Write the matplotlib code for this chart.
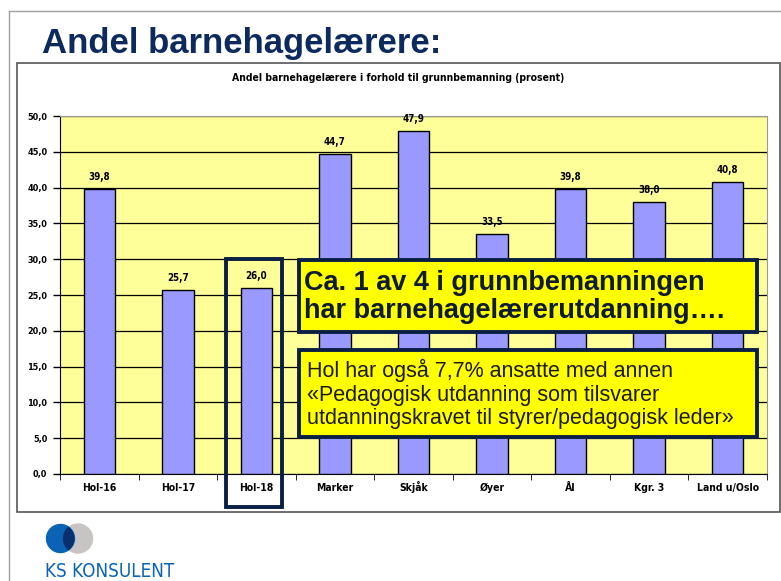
import matplotlib
matplotlib.use("Agg")
import matplotlib.pyplot as plt
from matplotlib.patches import Rectangle, Circle
import numpy as np
from matplotlib import font_manager

categories = ["Hol-16", "Hol-17", "Hol-18", "Marker", "Skjåk", "Øyer", "Ål", "Kgr. 3", "Land u/Oslo"]
values = [39.8, 25.7, 26.0, 44.7, 47.9, 33.5, 39.8, 38.0, 40.8]
yticks = [0, 5, 10, 15, 20, 25, 30, 35, 40, 45, 50]

W, H = 781, 581
fig = plt.figure(figsize=(W / 100, H / 100), dpi=100)
fig.patch.set_facecolor("white")

cond = [f for f in font_manager.fontManager.ttflist if "ondensed" in f.fname or "arrow" in f.fname]
narrow = cond[0].name if cond else "Liberation Sans"
nstretch = "condensed"

def px(x, y, w, h):
    return [x / W, 1 - (y + h) / H, w / W, h / H]

# slide frame
fig.add_artist(plt.Line2D([9 / W, 9 / W], [0, 1 - 11 / H], transform=fig.transFigure, color="#a0a0a0", lw=1))
fig.add_artist(plt.Line2D([9 / W, 1], [1 - 11 / H, 1 - 11 / H], transform=fig.transFigure, color="#a0a0a0", lw=1))

# title
fig.text(42 / W, 1 - 53 / H, "Andel barnehagelærere:", fontsize=25, fontweight="bold",
         color="#0d2a5e", family="Liberation Sans", va="baseline")

# chart box
fig.add_artist(Rectangle((17 / W, 1 - 512 / H), (780 - 17) / W, (512 - 63) / H,
                         transform=fig.transFigure, fill=False, edgecolor="#555555", lw=1.2))

fig.text(398 / W, 1 - 78 / H, "Andel barnehagelærere i forhold til grunnbemanning (prosent)",
         fontsize=7.5, fontweight="bold", family=narrow, fontstretch=nstretch, ha="center", va="center")

ax = fig.add_axes(px(60, 116, 707, 474 - 116))
ax.set_facecolor("#ffff99")
x = np.arange(len(categories))
ax.bar(x, values, width=0.4, color="#9999ff", edgecolor="black", linewidth=1, zorder=3)
ax.set_xlim(-0.5, len(categories) - 0.5)
ax.set_ylim(0, 50)
ax.set_yticks(yticks)
ax.set_yticklabels([f"{v:.1f}".replace(".", ",") for v in yticks], fontsize=6.5,
                   fontweight="bold", family=narrow, fontstretch=nstretch)
ax.yaxis.grid(True, color="black", lw=0.9, zorder=0)
ax.set_axisbelow(True)
ax.set_xticks(x)
ax.set_xticklabels(categories, fontsize=7.5, fontweight="bold", family=narrow,
                   fontstretch=nstretch, va="baseline")
ax.tick_params(axis="x", length=0, pad=12)
ax.set_xticks(np.arange(-0.5, len(categories)), minor=True)
ax.tick_params(axis="x", which="minor", length=4, color="black")
ax.tick_params(axis="y", length=5, color="black", width=1, pad=4)
for s in ["top", "right"]:
    ax.spines[s].set_color("#999999")
for s in ["left", "bottom"]:
    ax.spines[s].set_color("black")
for xi, v in zip(x, values):
    ax.text(xi, v + 1.0, f"{v:.1f}".replace(".", ","), ha="center", va="bottom",
            fontsize=7, fontweight="bold", family=narrow, fontstretch=nstretch, zorder=4)

navy = "#0a1f44"
# highlight box around Hol-18
fig.add_artist(Rectangle((226 / W, 1 - 507 / H), (282 - 226) / W, (507 - 259) / H,
                         transform=fig.transFigure, fill=False, edgecolor=navy, lw=2.8, zorder=10))

# text box 1
fig.add_artist(Rectangle((299 / W, 1 - 332 / H), (757 - 299) / W, (332 - 260) / H,
                         transform=fig.transFigure, facecolor="#ffff00", edgecolor=navy, lw=2.8, zorder=10))
fig.text(304 / W, 1 - 297 / H, "Ca. 1 av 4 i grunnbemanningen\nhar barnehagelærerutdanning….",
         fontsize=19.5, fontweight="bold", family="Liberation Sans", color="#0d1b33",
         va="center", ha="left", linespacing=1.1, zorder=11)

# text box 2
fig.add_artist(Rectangle((299 / W, 1 - 437 / H), (757 - 299) / W, (437 - 350) / H,
                         transform=fig.transFigure, facecolor="#ffff00", edgecolor=navy, lw=2.8, zorder=10))
fig.text(307 / W, 1 - 394 / H,
         "Hol har også 7,7% ansatte med annen\n«Pedagogisk utdanning som tilsvarer\nutdanningskravet til styrer/pedagogisk leder»",
         fontsize=15.5, family="Liberation Sans", color="#1a1a1a",
         va="center", ha="left", linespacing=1.17, zorder=11)

# logo
lax = fig.add_axes(px(40, 520, 60, 38))
lax.set_xlim(40, 100)
lax.set_ylim(558, 520)
lax.set_aspect("equal")
lax.axis("off")
blue = Circle((60.5, 538.5), 14, color="#0b63b5")
grey = Circle((78, 538.5), 14.5, color="#c8c4c4")
lax.add_patch(grey)
lax.add_patch(blue)
lens = Circle((78, 538.5), 14.5, color="#0a2f6e")
lax.add_patch(lens)
lens.set_clip_path(blue)
fig.text(45 / W, 1 - 577 / H, "KS KONSULENT", fontsize=13.5, color="#0b63b5",
         family=narrow, fontstretch=nstretch, va="baseline")

fig.savefig("out.png", dpi=100, facecolor="white")
